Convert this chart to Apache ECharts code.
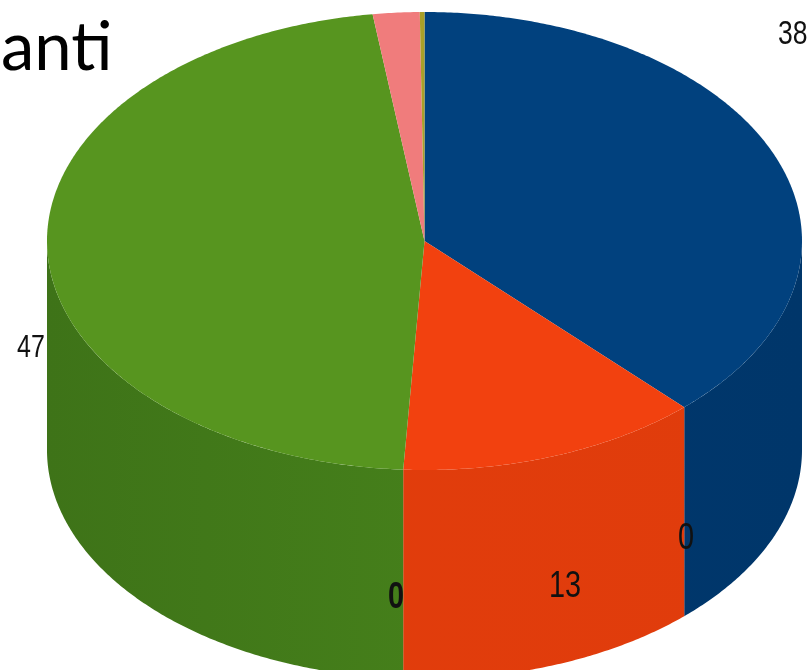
<!DOCTYPE html>
<html><head><meta charset="utf-8">
<script src="https://cdn.jsdelivr.net/npm/echarts@6/dist/echarts.min.js"></script>
<style>html,body{margin:0;padding:0;background:#fff}#c{width:807px;height:670px}</style>
</head><body><div id="c"></div>
<script>
// Data
const sliceNames = ['Serie 1', 'Serie 2', 'Serie 3', 'Serie 4', 'Serie 5', 'Serie 6', 'Serie 7'];
const sliceValues = [38, 0, 13, 0, 47, 2, 0.2];
const labelTexts = ['38', '0', '13', '0', '47', '', ''];
const titleText = 'anti';

// Styles
const topColors = ['#01417e', '#f2410f', '#f2410f', '#57951f', '#57951f', '#f07c7c', '#a8a028'];
const sideLeft  = ['#003a72', '#e23d0c', '#e23d0c', '#3e7318', '#3e7318', '#e06a6a', '#8a8420'];
const sideRight = ['#00366a', '#e03c0c', '#e03c0c', '#4c8b1d', '#4c8b1d', '#e06a6a', '#8a8420'];
const labelPos = [[778, 35, 'left', 34], [686, 539, 'center', 37], [565, 587, 'center', 37], [396, 598, 'center', 37], [31, 348, 'center', 32], null, null];
const labelBold = [false, false, false, true, false, false, false];

const G = {cx: 424.5, cy: 241, rx: 377.5, ry: 229, depth: 209};
const total = sliceValues.reduce((a, b) => a + b, 0);
const starts = [];
let acc = 0;
sliceValues.forEach(v => { starts.push(acc / total * 360); acc += v; });

function pt(deg, dy) {
  const r = deg * Math.PI / 180;
  return [G.cx + G.rx * Math.sin(r), G.cy - G.ry * Math.cos(r) + (dy || 0)];
}
function arc(a, b, dy) {
  const pts = [];
  const n = Math.max(2, Math.ceil(Math.abs(b - a) / 0.5));
  for (let i = 0; i <= n; i++) pts.push(pt(a + (b - a) * i / n, dy));
  return pts;
}

const data = sliceNames.map((n, i) => ({name: n, value: [i, sliceValues[i]]}));

function renderSide(params, api) {
  const i = api.value(0), v = api.value(1);
  if (!v) return null;
  const a0 = starts[i], a1 = a0 + v / total * 360;
  const a = Math.max(a0, 90), b = Math.min(a1, 270);
  if (b <= a) return null;
  const top = arc(a, b, 0);
  const bot = arc(b, a, G.depth);
  return {
    type: 'polygon',
    shape: {points: top.concat(bot)},
    style: {
      fill: {type: 'linear', x: G.cx - G.rx, y: 0, x2: G.cx + G.rx, y2: 0, global: true,
        colorStops: [{offset: 0, color: sideLeft[i]}, {offset: 1, color: sideRight[i]}]},
      stroke: null
    }
  };
}

function renderTop(params, api) {
  const i = api.value(0), v = api.value(1);
  const children = [];
  if (v) {
    const a0 = starts[i], a1 = a0 + v / total * 360;
    const pts = [[G.cx, G.cy]].concat(arc(a0, a1, 0));
    children.push({type: 'polygon', shape: {points: pts}, style: {fill: topColors[i], stroke: null}});
  }
  const lp = labelPos[i];
  if (lp && labelTexts[i] !== '') {
    children.push({
      type: 'text', z2: 100, x: lp[0], y: lp[1], scaleX: 0.78,
      style: {
        x: 0, y: 0, text: labelTexts[i], align: lp[2], verticalAlign: 'middle',
        fill: '#111', fontSize: lp[3], fontWeight: labelBold[i] ? 'bold' : 'normal',
        fontFamily: '"Liberation Sans", "DejaVu Sans", sans-serif'
      }
    });
  }
  return {type: 'group', children};
}

const chart = echarts.init(document.getElementById('c'), null, {renderer: 'canvas'});
chart.setOption({
  animation: false,
  backgroundColor: '#fff',
  graphic: [{
    type: 'text', left: 1, top: 15, z: 200,
    style: {text: titleText, fill: '#000', font: '67px Lato, "Open Sans", sans-serif'}
  }],
  series: [
    {type: 'custom', coordinateSystem: 'none', renderItem: renderSide, data: data, z: 1, silent: true},
    {type: 'custom', coordinateSystem: 'none', renderItem: renderTop, data: data, z: 2, silent: true}
  ]
});
</script></body></html>
